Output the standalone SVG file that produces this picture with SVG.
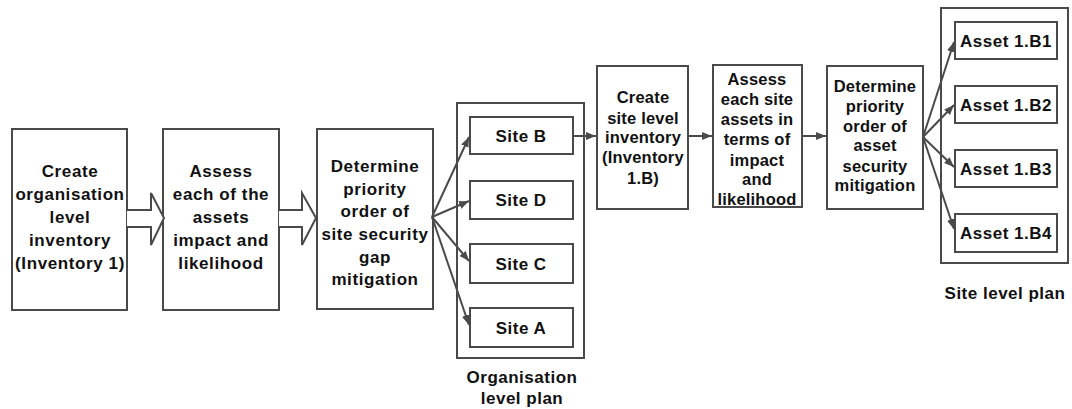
<svg xmlns="http://www.w3.org/2000/svg" width="1072" height="409" viewBox="0 0 1072 409">
<style>
.box{fill:#fff;stroke:#4a4a4a;stroke-width:2}
.blk{fill:#fff;stroke:#4a4a4a;stroke-width:2;stroke-linejoin:miter}
.ln{fill:none;stroke:#4a4a4a;stroke-width:2}
text{font-family:"Liberation Sans",Arial,sans-serif;font-weight:bold;fill:#111;text-anchor:middle}
.big{font-size:17px;letter-spacing:0.6px}
.sm{font-size:16.5px;letter-spacing:0.2px}
.lab{font-size:17px;letter-spacing:0.5px}
</style>
<defs>
<marker id="ah" viewBox="0 0 10 10" refX="10" refY="5" markerWidth="5" markerHeight="5" orient="auto" markerUnits="strokeWidth">
<path d="M0,1 L10,5 L0,9 z" fill="#4a4a4a"/>
</marker>
</defs>
<rect width="1072" height="409" fill="#fff"/>

<g id="n1">
<rect class="box" x="12" y="129" width="115" height="181"/>
<text class="big" x="70" y="177">Create</text>
<text class="big" x="70" y="200">organisation</text>
<text class="big" x="70" y="223">level</text>
<text class="big" x="70" y="246">inventory</text>
<text class="big" x="70" y="269">(Inventory 1)</text>
</g>
<g id="n2">
<rect class="box" x="163" y="129" width="116" height="181"/>
<text class="big" x="221" y="177">Assess</text>
<text class="big" x="221" y="200">each of the</text>
<text class="big" x="221" y="223">assets</text>
<text class="big" x="221" y="246">impact and</text>
<text class="big" x="221" y="269">likelihood</text>
</g>
<g id="n3">
<rect class="box" x="317" y="129" width="116" height="180"/>
<text class="big" x="375" y="172">Determine</text>
<text class="big" x="375" y="195">priority</text>
<text class="big" x="375" y="217">order of</text>
<text class="big" x="375" y="240">site security</text>
<text class="big" x="375" y="263">gap</text>
<text class="big" x="375" y="285">mitigation</text>
</g>
<g id="orgplan">
<rect class="box" x="457" y="103" width="127" height="255"/>
<text class="lab" x="522" y="383">Organisation</text>
<text class="lab" x="522" y="404">level plan</text>
</g>
<g id="siteB">
<rect class="box" x="470" y="117" width="103" height="37"/>
<text class="lab" x="521" y="142">Site B</text>
</g>
<g id="siteD">
<rect class="box" x="470" y="181" width="103" height="38"/>
<text class="lab" x="521" y="206">Site D</text>
</g>
<g id="siteC">
<rect class="box" x="470" y="244" width="103" height="39"/>
<text class="lab" x="521" y="270">Site C</text>
</g>
<g id="siteA">
<rect class="box" x="470" y="308" width="103" height="39"/>
<text class="lab" x="521" y="334">Site A</text>
</g>
<g id="n4">
<rect class="box" x="597" y="66" width="91" height="143"/>
<text class="sm" x="643" y="103">Create</text>
<text class="sm" x="643" y="124">site level</text>
<text class="sm" x="643" y="143">inventory</text>
<text class="sm" x="643" y="163">(Inventory</text>
<text class="sm" x="643" y="184">1.B)</text>
</g>
<g id="n5">
<rect class="box" x="713" y="65" width="89" height="142"/>
<text class="sm" x="757" y="85">Assess</text>
<text class="sm" x="757" y="105">each site</text>
<text class="sm" x="757" y="125">assets in</text>
<text class="sm" x="757" y="145">terms of</text>
<text class="sm" x="757" y="166">impact</text>
<text class="sm" x="757" y="185">and</text>
<text class="sm" x="757" y="205">likelihood</text>
</g>
<g id="n6">
<rect class="box" x="827" y="66" width="96" height="143"/>
<text class="sm" x="875" y="92">Determine</text>
<text class="sm" x="875" y="112">priority</text>
<text class="sm" x="875" y="132">order of</text>
<text class="sm" x="875" y="151">asset</text>
<text class="sm" x="875" y="172">security</text>
<text class="sm" x="875" y="191">mitigation</text>
</g>
<g id="siteplan">
<rect class="box" x="941" y="8" width="127" height="255"/>
<text class="lab" x="1005" y="299">Site level plan</text>
</g>
<g id="a1">
<rect class="box" x="955" y="22" width="102" height="37"/>
<text class="lab" x="1006" y="47">Asset 1.B1</text>
</g>
<g id="a2">
<rect class="box" x="955" y="86" width="102" height="37"/>
<text class="lab" x="1006" y="111">Asset 1.B2</text>
</g>
<g id="a3">
<rect class="box" x="955" y="150" width="102" height="37"/>
<text class="lab" x="1006" y="175">Asset 1.B3</text>
</g>
<g id="a4">
<rect class="box" x="955" y="214" width="102" height="38"/>
<text class="lab" x="1006" y="239">Asset 1.B4</text>
</g>

<g id="connectors">
<path class="blk" d="M127,210 L151,210 L151,193 L164,218 L151,245 L151,227 L127,227"/>
<path class="blk" d="M279,210 L302,210 L302,193 L316,218 L302,245 L302,227 L279,227"/>
<line class="ln" x1="432" y1="217" x2="469" y2="137" marker-end="url(#ah)"/>
<line class="ln" x1="432" y1="217" x2="469" y2="201" marker-end="url(#ah)"/>
<line class="ln" x1="432" y1="217" x2="469" y2="261" marker-end="url(#ah)"/>
<line class="ln" x1="432" y1="217" x2="469" y2="325" marker-end="url(#ah)"/>
<line class="ln" x1="573" y1="136" x2="596" y2="136" marker-end="url(#ah)"/>
<line class="ln" x1="688" y1="136" x2="712" y2="136" marker-end="url(#ah)"/>
<line class="ln" x1="802" y1="136" x2="826" y2="136" marker-end="url(#ah)"/>
<line class="ln" x1="923" y1="137" x2="954" y2="42" marker-end="url(#ah)"/>
<line class="ln" x1="923" y1="137" x2="954" y2="105" marker-end="url(#ah)"/>
<line class="ln" x1="923" y1="137" x2="954" y2="167" marker-end="url(#ah)"/>
<line class="ln" x1="923" y1="137" x2="954" y2="229" marker-end="url(#ah)"/>
</g>
</svg>
